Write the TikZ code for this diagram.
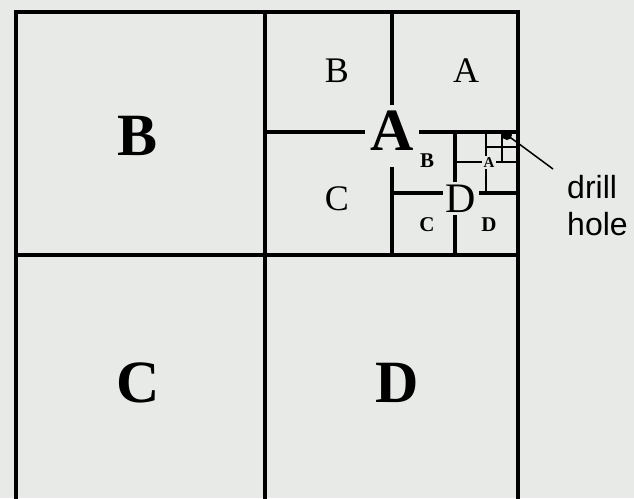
\documentclass[tikz,border=0pt]{standalone}
\usepackage{fontspec}
\setmainfont{Liberation Serif}
\newfontfamily\calloutfont{Liberation Sans}
\usetikzlibrary{positioning}
\definecolor{paper}{RGB}{231,234,230}

\begin{document}
\begin{tikzpicture}[x=1pt,y=-1pt,
  wall/.style={line width=3.2pt},
  subwall/.style={line width=2.8pt},
  big/.style={anchor=base,font=\fontsize{60}{60}\selectfont\bfseries},
  mid/.style={anchor=base,font=\fontsize{36}{36}\selectfont},
  small/.style={anchor=base,font=\fontsize{21}{21}\selectfont\bfseries},
  cut/.style={fill=paper,inner sep=3pt}]
  \fill[paper] (0,0) rectangle (634,498);
  \clip (0,0) rectangle (634,498);
  % first split
  \draw[wall] (16,12) rectangle (518,520);
  \draw[wall] (265,12) -- (265,520);
  \draw[wall] (16,255) -- (518,255);
  % quadrant A
  \draw[wall] (392,12) -- (392,255);
  \draw[wall] (265,132) -- (518,132);
  % its D part
  \draw[wall] (455,132) -- (455,255);
  \draw[wall] (392,193) -- (518,193);
  % its A part
  \draw[subwall] (486,132) -- (486,193);
  \draw[subwall] (455,162) -- (518,162);
  % and again
  \draw[subwall] (502,132) -- (502,162);
  \draw[subwall] (486,147) -- (518,147);

  \node[big] (bigB) at (138,155) {B};
  \node[big] (bigC) at (138,402) {C};
  \node[big] (bigD) at (397,402) {D};
  \node[big,cut,inner sep=5pt,text depth=12pt] (bigA) at (392,150) {A};

  \node[mid] (aB) at (337,82) {B};
  \node[mid] (aA) at (466,82) {A};
  \node[mid] (aC) at (337,210) {C};
  \node[mid,cut,font=\fontsize{42}{42}\selectfont] (aD) at (461,212) {D};

  \node[small] (dB) at (427,167) {B};
  \node[small] (dC) at (427,231) {C};
  \node[small] (dD) at (489,231) {D};
  \node[small,cut,inner sep=1.5pt,font=\fontsize{15}{15}\selectfont\bfseries] (dA) at (489,167) {A};

  \coordinate (hole) at (507,135);
  \fill (hole) circle (5pt);
  \node[anchor=north west,inner sep=0pt,align=left,
        font=\calloutfont\fontsize{32}{37}\selectfont] (drill) at (567,175) {drill\\hole};
  \coordinate (tip) at (553,169);
  \draw[line width=1.5pt] (hole) -- (tip);
\end{tikzpicture}
\end{document}
